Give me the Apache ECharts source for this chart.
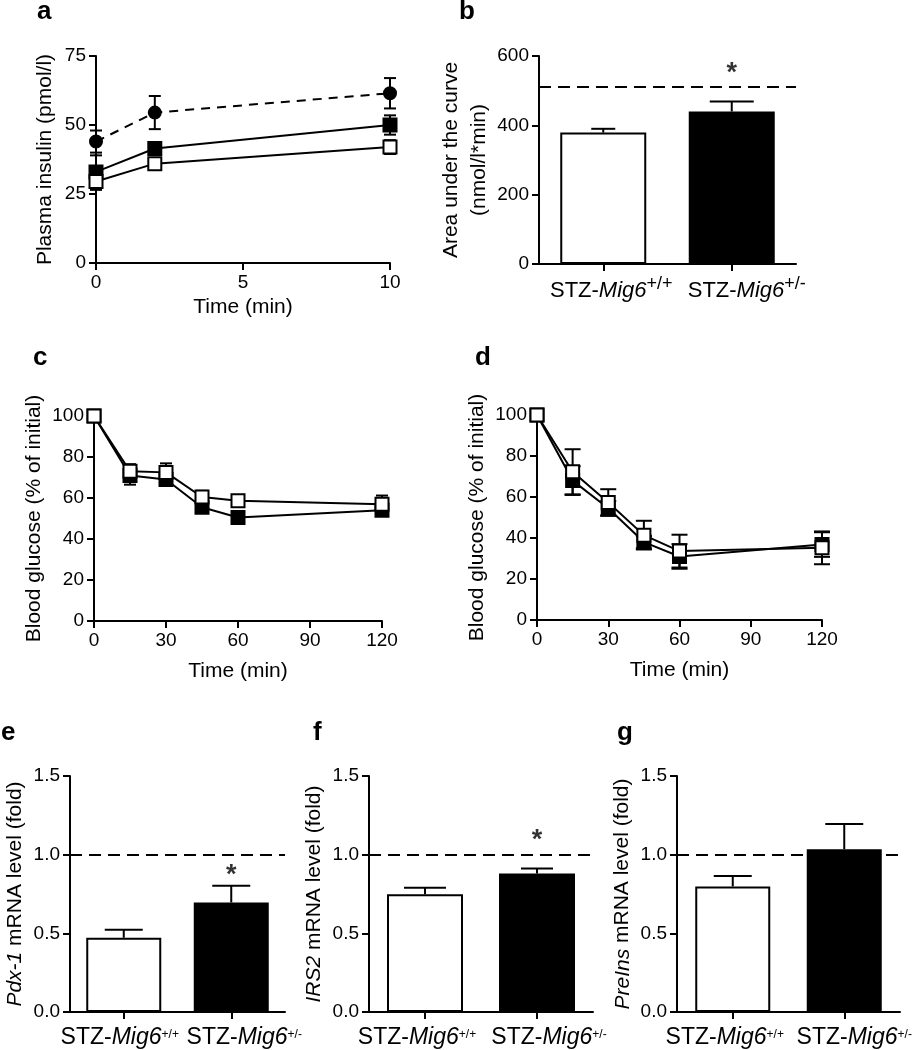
<!DOCTYPE html>
<html>
<head>
<meta charset="utf-8">
<script src="https://cdn.jsdelivr.net/npm/echarts@6/dist/echarts.min.js"></script>
</head>
<body style="margin:0; background:#fff">
<div id="container" style="width:917px; height:1050px"></div>
<script type="text/javascript">
// ---- data ----
// a: plasma insulin after glucose
var timeA = [0, 2, 10];
var insulinDashed = [44, 54.5, 61.5];
var insulinDashedErr = [4, 6, 5.5];
var insulinFilled = [33, 41.5, 50];
var insulinFilledErr = [6, 1.5, 3.5];
var insulinOpen = [29.5, 36, 42];
var insulinOpenErr = [3, 1, 2.5];

// b: area under the curve
var genotypes = ['+/+', '+/-'];
var aucValues = [379, 440];
var aucErr = [11, 29];
var aucReference = 512;

// c, d: blood glucose (% of initial)
var timeGlu = [0, 15, 30, 45, 60, 120];
var gluCFilled = [100, 71, 69, 55.5, 50.5, 54];
var gluCFilledErr = [0, 4.5, 2.5, 2, 1.5, 2];
var gluCOpen = [100, 73, 72.5, 60.5, 58.7, 57];
var gluCOpenErr = [0, 3.5, 4.4, 3, 1.5, 4.2];
var gluDFilled = [100, 68, 54.5, 38, 31, 36.8];
var gluDFilledErr = [0, 7, 3.5, 3, 6, 6];
var gluDOpen = [100, 72.3, 57.3, 41.4, 33.6, 35.2];
var gluDOpenErr = [0, 11, 6.5, 7, 8, 8];

// e, f, g: mRNA levels (fold)
var pdx1 = [0.472, 0.696];
var pdx1Err = [0.051, 0.106];
var irs2 = [0.749, 0.880];
var irs2Err = [0.040, 0.032];
var preIns = [0.798, 1.035];
var preInsErr = [0.067, 0.160];
var foldReference = 1.0;

var FONT = 'Liberation Sans, Arial, Helvetica, sans-serif';
var BLACK = '#000';

// ---- helpers ----
var axisLineStyle = {show: true, onZero: false, lineStyle: {color: BLACK, width: 2}};
var axisTickStyle = {show: true, length: 7, lineStyle: {color: BLACK, width: 2}};

// shifts: horizontal nudge of each category label (px), done with spacer tokens
function catX(idx, mainSize, supSize, supRaise, margin, shifts) {
    var rich = {
        n: {fontSize: mainSize, fontFamily: FONT, color: BLACK, verticalAlign: 'bottom'},
        i: {fontSize: mainSize, fontFamily: FONT, color: BLACK, fontStyle: 'italic', verticalAlign: 'bottom'},
        s: {fontSize: supSize, fontFamily: FONT, color: BLACK, verticalAlign: 'bottom', padding: [0, 0, supRaise, 0]}
    };
    shifts.forEach(function (sh, i) {
        rich['p' + i] = {width: Math.abs(sh) * 2, fontSize: mainSize};
    });
    return {
        gridIndex: idx, type: 'category', data: genotypes.map(function (g, i) { return i; }),
        axisLine: axisLineStyle,
        axisTick: {show: true, alignWithLabel: true, length: 7, lineStyle: {color: BLACK, width: 2}},
        splitLine: {show: false},
        axisLabel: {
            interval: 0, margin: margin, rich: rich,
            formatter: function (v, i) {
                var pad = '{p' + i + '| }';
                var txt = '{n|STZ-}{i|Mig6}{s|' + genotypes[i] + '}';
                return shifts[i] > 0 ? pad + txt : txt + pad;
            }
        }
    };
}

function valueX(idx, max, interval, gap) {
    return {
        gridIndex: idx, type: 'value', min: 0, max: max, interval: interval,
        name: 'Time (min)', nameLocation: 'middle', nameGap: gap,
        nameTextStyle: {fontSize: 21, fontFamily: FONT, color: BLACK},
        axisLine: axisLineStyle, axisTick: axisTickStyle, splitLine: {show: false},
        axisLabel: {fontSize: 19, fontFamily: FONT, color: BLACK, margin: 10}
    };
}
function valueY(idx, max, interval, name, gap, rich, fmt) {
    return {
        gridIndex: idx, type: 'value', min: 0, max: max, interval: interval,
        name: name, nameLocation: 'middle', nameGap: gap,
        nameTextStyle: {fontSize: 21, fontFamily: FONT, color: BLACK, lineHeight: 28, rich: rich},
        axisLine: axisLineStyle, axisTick: axisTickStyle, splitLine: {show: false},
        axisLabel: {fontSize: 19, fontFamily: FONT, color: BLACK, margin: 10, formatter: fmt}
    };
}
var italicRich = {
    i: {fontSize: 21, fontFamily: FONT, color: BLACK, fontStyle: 'italic'},
    n: {fontSize: 21, fontFamily: FONT, color: BLACK}
};

function pairs(xs, ys) {
    return xs.map(function (x, i) { return [x, ys[i]]; });
}

function errorSeries(idx, xs, means, errs, caps, upOnly) {
    return {
        type: 'custom', xAxisIndex: idx, yAxisIndex: idx, z: upOnly ? 3 : 1, silent: true,
        data: xs.map(function (x, i) { return [x, means[i], errs[i]]; }),
        renderItem: function (params, api) {
            var x = api.value(0), m = api.value(1), e = api.value(2);
            if (!e) return null;
            var cap = Array.isArray(caps) ? caps[params.dataIndex] : caps;
            var hi = api.coord([x, m + e]);
            var lo = api.coord([x, upOnly ? m : m - e]);
            var st = {stroke: BLACK, lineWidth: 2};
            var kids = [
                {type: 'line', shape: {x1: hi[0], y1: hi[1], x2: lo[0], y2: lo[1]}, style: st},
                {type: 'line', shape: {x1: hi[0] - cap, y1: hi[1], x2: hi[0] + cap, y2: hi[1]}, style: st}
            ];
            if (!upOnly) {
                kids.push({type: 'line', shape: {x1: lo[0] - cap, y1: lo[1], x2: lo[0] + cap, y2: lo[1]}, style: st});
            }
            return {type: 'group', children: kids};
        }
    };
}

function lineSeries(idx, xs, ys, kind) {
    var s = {
        type: 'line', xAxisIndex: idx, yAxisIndex: idx, z: 2,
        data: pairs(xs, ys), symbol: 'rect', symbolSize: 13,
        lineStyle: {color: BLACK, width: 2},
        itemStyle: {color: BLACK, borderColor: BLACK, borderWidth: 2}
    };
    if (kind === 'open') {
        s.z = 4;
        s.itemStyle = {color: '#fff', borderColor: BLACK, borderWidth: 2};
    }
    if (kind === 'circle') {
        s.symbol = 'circle';
        s.symbolSize = 12;
        s.lineStyle = {color: BLACK, width: 2, type: [9, 7]};
    }
    return s;
}

function barSeries(idx, values, barWidth, refLine) {
    var s = {
        type: 'bar', xAxisIndex: idx, yAxisIndex: idx, barWidth: barWidth, z: 2,
        data: values.map(function (v, i) {
            return {
                value: v,
                itemStyle: i === 0 ? {color: '#fff', borderColor: BLACK, borderWidth: 2}
                                   : {color: BLACK, borderColor: BLACK, borderWidth: 2}
            };
        })
    };
    if (refLine !== undefined) {
        s.markLine = {
            silent: true, symbol: 'none', label: {show: false}, animation: false,
            lineStyle: {color: BLACK, width: 2, type: [12, 7]},
            data: [{yAxis: refLine}]
        };
    }
    return s;
}

function starSeries(idx, cat, y) {
    return {
        type: 'scatter', xAxisIndex: idx, yAxisIndex: idx, symbolSize: 1, z: 5,
        itemStyle: {color: 'rgba(0,0,0,0)'},
        label: {show: true, position: 'inside', formatter: '*', fontSize: 27, fontWeight: 'bold',
                fontFamily: FONT, color: BLACK},
        data: [[cat, y]]
    };
}

var fold = function (v) { return v.toFixed(1); };

var dom = document.getElementById('container');
var myChart = echarts.init(dom, null, {renderer: 'canvas'});

var option = {
    animation: false,
    backgroundColor: '#fff',
    textStyle: {fontFamily: FONT, color: BLACK},
    grid: [
        {left: 96, top: 56, width: 294, height: 207},
        {left: 539, top: 56, width: 257, height: 208},
        {left: 94, top: 416, width: 288, height: 205},
        {left: 537, top: 415, width: 285, height: 205},
        {left: 62, top: 776, width: 223, height: 236},
        {left: 369, top: 776, width: 224, height: 236},
        {left: 677, top: 776, width: 223, height: 236}
    ],
    xAxis: [
        valueX(0, 10, 5, 34),
        catX(1, 22, 18, 9, 11, [8, 15]),
        valueX(2, 120, 30, 40),
        valueX(3, 120, 30, 40),
        catX(4, 23, 12, 8, 14, [-4, 13]),
        catX(5, 23, 12, 8, 14, [-8, 12]),
        catX(6, 23, 12, 8, 14, [-8, 10])
    ],
    yAxis: [
        valueY(0, 75, 25, 'Plasma insulin (pmol/l)', 37),
        valueY(1, 600, 200, 'Area under the curve\n(nmol/l*min)', 40),
        valueY(2, 100, 20, 'Blood glucose (% of initial)', 41),
        valueY(3, 100, 20, 'Blood glucose (% of initial)', 39),
        valueY(4, 1.5, 0.5, '{i|Pdx-1}{n| mRNA level (fold)}', 41, italicRich, fold),
        valueY(5, 1.5, 0.5, '{i|IRS2}{n| mRNA level (fold)}', 41, italicRich, fold),
        valueY(6, 1.5, 0.5, '{i|PreIns}{n| mRNA level (fold)}', 40, italicRich, fold)
    ],
    graphic: [
        {type: 'text', left: 37, top: -1, style: {text: 'a', font: 'bold 26px ' + FONT, fill: BLACK}},
        {type: 'text', left: 459, top: -1, style: {text: 'b', font: 'bold 26px ' + FONT, fill: BLACK}},
        {type: 'text', left: 33, top: 345, style: {text: 'c', font: 'bold 26px ' + FONT, fill: BLACK}},
        {type: 'text', left: 475, top: 345, style: {text: 'd', font: 'bold 26px ' + FONT, fill: BLACK}},
        {type: 'text', left: 1, top: 720, style: {text: 'e', font: 'bold 26px ' + FONT, fill: BLACK}},
        {type: 'text', left: 313, top: 720, style: {text: 'f', font: 'bold 26px ' + FONT, fill: BLACK}},
        {type: 'text', left: 617, top: 720, style: {text: 'g', font: 'bold 26px ' + FONT, fill: BLACK}}
    ],
    series: [
        // a
        errorSeries(0, timeA, insulinDashed, insulinDashedErr, 6),
        errorSeries(0, timeA, insulinFilled, insulinFilledErr, 6),
        errorSeries(0, timeA, insulinOpen, insulinOpenErr, 6),
        lineSeries(0, timeA, insulinDashed, 'circle'),
        lineSeries(0, timeA, insulinFilled, 'filled'),
        lineSeries(0, timeA, insulinOpen, 'open'),
        // b
        barSeries(1, aucValues, 86, aucReference),
        errorSeries(1, [0, 1], aucValues, aucErr, [12, 22], true),
        starSeries(1, 1, 548),
        // c
        errorSeries(2, timeGlu, gluCFilled, gluCFilledErr, 6),
        errorSeries(2, timeGlu, gluCOpen, gluCOpenErr, 6),
        lineSeries(2, timeGlu, gluCFilled, 'filled'),
        lineSeries(2, timeGlu, gluCOpen, 'open'),
        // d
        errorSeries(3, timeGlu, gluDFilled, gluDFilledErr, 8),
        errorSeries(3, timeGlu, gluDOpen, gluDOpenErr, 8),
        lineSeries(3, timeGlu, gluDFilled, 'filled'),
        lineSeries(3, timeGlu, gluDOpen, 'open'),
        // e
        barSeries(4, pdx1, 75, foldReference),
        errorSeries(4, [0, 1], pdx1, pdx1Err, 19, true),
        starSeries(4, 1, 0.865),
        // f
        barSeries(5, irs2, 76, foldReference),
        errorSeries(5, [0, 1], irs2, irs2Err, [21, 16], true),
        starSeries(5, 1, 1.087),
        // g
        barSeries(6, preIns, 75, foldReference),
        errorSeries(6, [0, 1], preIns, preInsErr, 19, true)
    ]
};

if (option && typeof option === "object") {
    myChart.setOption(option, true);
}
</script>
</body>
</html>
